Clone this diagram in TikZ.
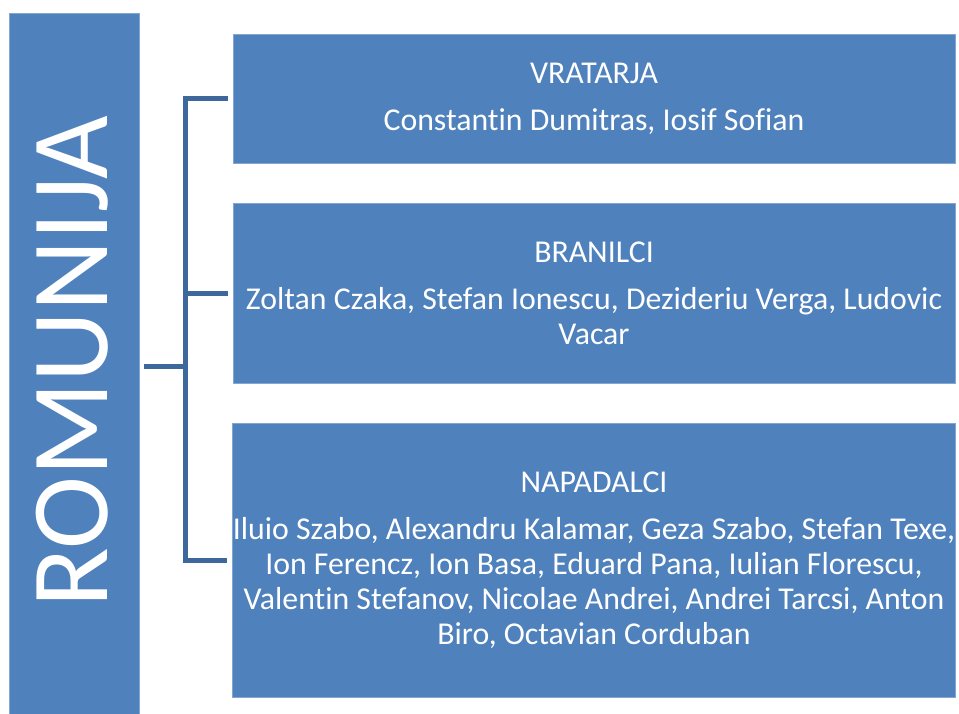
\documentclass[tikz,border=0pt]{standalone}
\usepackage{fontspec}
\setmainfont{Carlito}[Ligatures=NoCommon]
\usepackage{xcolor}
\definecolor{boxblue}{RGB}{79,129,189}
\definecolor{linkblue}{RGB}{62,104,155}
\tikzset{
  teambox/.style={fill=boxblue,draw=boxblue!70!white,line width=0.8pt,text=white,
    align=center,inner sep=0pt,minimum width=722,font=\fontsize{31.8}{35}\selectfont},
  link/.style={draw=linkblue,line width=5pt}
}

\begin{document}
\begin{tikzpicture}[x=1pt,y=-1pt]
\useasboundingbox (0,0) rectangle (959,713);
\node[fill=boxblue,draw=boxblue!70!white,line width=0.8pt,minimum width=130,minimum height=702,inner sep=0pt] (rom) at (74,364) {};
\node[text=white,rotate=90,font=\fontsize{110}{120}\selectfont] (romtxt) at (72,362) {ROMUNIJA};
\node[teambox,minimum height=129] (vratarji) at (594,98.5) {VRATARJA\\[12pt]Constantin Dumitras, Iosif Sofian};
\node[teambox,minimum height=180] (branilci) at (594,293) {BRANILCI\\[12pt]Zoltan Czaka, Stefan Ionescu, Dezideriu Verga, Ludovic\\Vacar};
\node[teambox,minimum height=274] (napadalci) at (594,560) {NAPADALCI\\[12pt]Iluio Szabo, Alexandru Kalamar, Geza Szabo, Stefan Texe,\\Ion Ferencz, Ion Basa, Eduard Pana, Iulian Florescu,\\Valentin Stefanov, Nicolae Andrei, Andrei Tarcsi, Anton\\Biro, Octavian Corduban};
\coordinate (fork) at (185.5,366);
\draw[link,shorten <=5pt] (rom.east |- fork) -- (fork);
\draw[link,shorten <=5pt,shorten >=5pt] (vratarji.west) -| (fork) |- (napadalci.west);
\draw[link,shorten <=5pt] (branilci.west) -- (fork |- branilci.west);
\end{tikzpicture}
\end{document}
